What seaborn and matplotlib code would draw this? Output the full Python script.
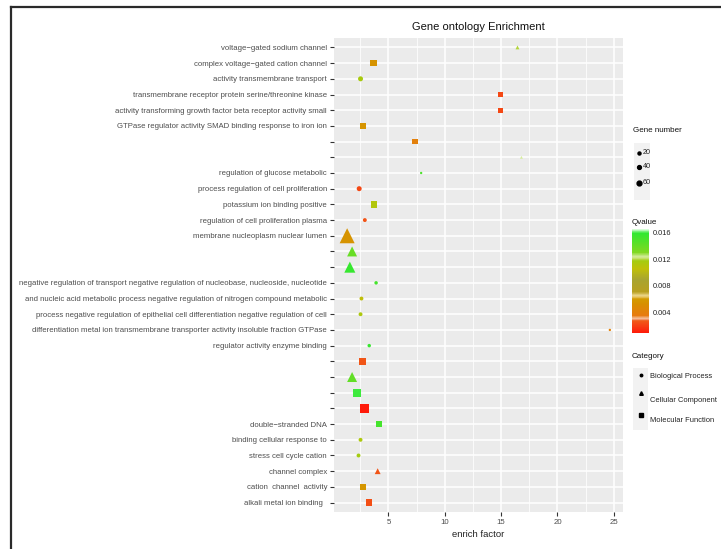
import numpy as np
import pandas as pd
import matplotlib
matplotlib.use("Agg")
import matplotlib.pyplot as plt
import seaborn as sns
from matplotlib.colors import LinearSegmentedColormap, Normalize
from matplotlib.lines import Line2D
from matplotlib.patches import Rectangle
from matplotlib.cm import ScalarMappable
from matplotlib import font_manager as fm

# ---------------- data ----------------
terms = [
    "voltage\u2212gated sodium channel",
    "complex voltage\u2212gated cation channel",
    "activity transmembrane transport",
    "transmembrane receptor protein serine/threonine kinase",
    "activity transforming growth factor beta receptor activity small",
    "GTPase regulator activity SMAD binding response to iron ion",
    "",
    "",
    "regulation of glucose metabolic",
    "process regulation of cell proliferation",
    "potassium ion binding positive",
    "regulation of cell proliferation plasma",
    "membrane nucleoplasm nuclear lumen",
    "",
    "",
    "negative regulation of transport negative regulation of nucleobase, nucleoside, nucleotide",
    "and nucleic acid metabolic process negative regulation of nitrogen compound metabolic",
    "process negative regulation of epithelial cell differentiation negative regulation of cell",
    "differentiation metal ion transmembrane transporter activity insoluble fraction GTPase",
    "regulator activity enzyme binding",
    "",
    "",
    "",
    "",
    "double\u2212stranded DNA",
    "binding cellular response to",
    "stress cell cycle cation",
    "channel complex",
    "cation  channel  activity",
    "alkali metal ion binding  ",
]
enrich_factor = [16.45, 3.68, 2.52, 14.94, 14.94, 2.73, 7.33, 16.8, 7.9, 2.4,
                 3.7, 2.9, 1.33, 1.77, 1.57, 3.9, 2.6, 2.52, 24.65, 3.29,
                 2.7, 1.77, 2.22, 2.88, 4.18, 2.52, 2.34, 4.04, 2.73, 3.29]
qvalue = [0.0120, 0.0055, 0.0116, 0.0022, 0.0022, 0.0056, 0.0040, 0.0124, 0.0150, 0.0022,
          0.0112, 0.0025, 0.0055, 0.0140, 0.0158, 0.0152, 0.0105, 0.0114, 0.0042, 0.0157,
          0.0026, 0.0142, 0.0160, 0.0009, 0.0152, 0.0114, 0.0118, 0.0026, 0.0057, 0.0024]
gene_number = [5, 13, 8, 7, 7, 13, 10, 3, 2, 8,
               13, 5, 70, 31, 38, 4, 5, 5, 2, 4,
               13, 31, 18, 25, 10, 5, 5, 11, 13, 13]
BP, CC, MF = "Biological Process", "Cellular Component", "Molecular Function"
category = [CC, MF, BP, MF, MF, MF, MF, CC, BP, BP,
            MF, BP, CC, CC, CC, BP, BP, BP, BP, BP,
            MF, CC, MF, MF, MF, BP, BP, CC, MF, MF]
category_levels = [BP, CC, MF]
size_breaks = [20, 40, 60]
q_breaks = [0.004, 0.008, 0.012, 0.016]
x_breaks = [5, 10, 15, 20, 25]
x_minor = [2.5, 7.5, 12.5, 17.5, 22.5]

# ---------------- fonts ----------------
names = {f.name for f in fm.fontManager.ttflist}
if "Liberation Sans Narrow" in names:
    fam = ["Liberation Sans Narrow", "DejaVu Sans"]
    k = 0.98
else:
    fam = ["Liberation Sans", "DejaVu Sans"]
    k = 0.80
plt.rcParams["font.family"] = fam

# ---------------- colours ----------------
qmin, qmax = 0.0009, 0.0166
nodes = [(0.0009, "#FF1A0A"), (0.0027, "#F05A18"), (0.0031, "#F4C4A4"),
         (0.0035, "#E87A10"), (0.0052, "#D88E00"), (0.0060, "#D49A00"),
         (0.0065, "#EED890"), (0.0071, "#B8A020"), (0.0090, "#A8A430"),
         (0.0106, "#C0C008"), (0.0118, "#A4CC10"), (0.0124, "#D8ECA0"),
         (0.0131, "#80D820"), (0.0160, "#30E830"), (0.0166, "#E8FFE8")]
cmap = LinearSegmentedColormap.from_list(
    "qv", [((v - qmin) / (qmax - qmin), c) for v, c in nodes])
norm = Normalize(qmin, qmax)
markers = {BP: "o", CC: "^", MF: "s"}

# ---------------- figure ----------------
W, H = 721, 549
fig = plt.figure(figsize=(W / 100, H / 100), dpi=100)
fx = lambda p: p / W
fy = lambda p: 1 - p / H

ax = fig.add_axes([fx(334), fy(512), fx(623) - fx(334), fy(38) - fy(512)])

df = pd.DataFrame({"term": terms, "enrich": enrich_factor, "qvalue": qvalue,
                   "count": gene_number, "category": category})
df["row"] = np.arange(len(df))

sns.scatterplot(data=df, x="enrich", y="row", hue="qvalue", palette=cmap,
                hue_norm=norm, size="count", sizes=(1.2, 117), size_norm=(1, 70),
                style="category", markers=markers, style_order=category_levels,
                legend=False, linewidth=0, ax=ax, zorder=3)

ax.set_facecolor("#EBEBEB")
for sp in ax.spines.values():
    sp.set_visible(False)
ax.set_xticks(x_breaks)
ax.set_xticks(x_minor, minor=True)
ax.set_yticks(df["row"])
ax.set_yticklabels(terms)
ax.set_ylim(len(df) - 1 + 0.6, -0.6)
lo, hi = min(enrich_factor), max(enrich_factor)
ax.set_xlim(lo - 0.05 * (hi - lo), hi + 0.05 * (hi - lo))
ax.set_axisbelow(True)
ax.grid(which="major", color="white", lw=1.1)
ax.grid(which="minor", axis="x", color="white", lw=0.55)
ax.tick_params(axis="both", which="major", length=3, width=0.8, color="#333333",
               labelcolor="#4D4D4D", labelsize=7 * k, pad=2)
ax.tick_params(which="minor", length=0)
ax.set_ylabel("")
ax.set_xlabel("enrich factor", fontsize=8.5 * k, color="#222222", labelpad=3)
ax.set_title("Gene ontology Enrichment", fontsize=10 * k, color="#111111", pad=6)

# ---------------- legend: Gene number ----------------
fig.text(fx(633), fy(130), "Gene number", fontsize=7.2 * k, va="center", ha="left", color="#111111")
fig.add_artist(Rectangle((fx(634), fy(200)), fx(650) - fx(634), fy(143) - fy(200),
                         transform=fig.transFigure, facecolor="#F2F2F2", edgecolor="none"))
gn_y = [153, 167, 183]
gn_ms = [2.2, 2.8, 3.5]
for b, yy, ms in zip(size_breaks, gn_y, gn_ms):
    fig.add_artist(Line2D([fx(639)], [fy(yy)], marker="o", markersize=ms, color="black",
                          linestyle="none", transform=fig.transFigure))
    fig.text(fx(643), fy(yy), str(b), fontsize=6.5 * k, va="center", ha="left", color="#222222")

# ---------------- legend: Qvalue ----------------
fig.text(fx(632), fy(223), "Qvalue", fontsize=7.2 * k, va="center", ha="left", color="#111111")
cax = fig.add_axes([fx(632), fy(333), fx(649) - fx(632), fy(229) - fy(333)])
cb = fig.colorbar(ScalarMappable(norm=norm, cmap=cmap), cax=cax, ticks=q_breaks)
cb.outline.set_visible(False)
cax.set_yticklabels([f"{v:.3f}" for v in q_breaks])
cax.tick_params(length=0, labelsize=6.6 * k, pad=3, labelcolor="#222222")

# ---------------- legend: Category ----------------
fig.text(fx(632), fy(356), "Category", fontsize=7.2 * k, va="center", ha="left", color="#111111")
fig.add_artist(Rectangle((fx(633), fy(430)), fx(648) - fx(633), fy(368) - fy(430),
                         transform=fig.transFigure, facecolor="#F2F2F2", edgecolor="none"))
cat_mark_y = [375, 393, 415]
cat_text_y = [376, 400, 421]
cat_ms = [1.8, 2.6, 2.6]
for lev, my, ty, ms in zip(category_levels, cat_mark_y, cat_text_y, cat_ms):
    fig.add_artist(Line2D([fx(641)], [fy(my)], marker=markers[lev], markersize=ms,
                          color="black", linestyle="none", transform=fig.transFigure))
    fig.text(fx(650), fy(ty), lev, fontsize=6.8 * k, va="center", ha="left", color="#222222")

# ---------------- outer frame ----------------
fig.add_artist(Line2D([fx(11), fx(11)], [0, fy(7)], color="#2A2A2A", lw=1.6,
                      transform=fig.transFigure))
fig.add_artist(Line2D([fx(11), 1], [fy(7), fy(7)], color="#2A2A2A", lw=1.6,
                      transform=fig.transFigure))

fig.savefig("out.png", dpi=100)
